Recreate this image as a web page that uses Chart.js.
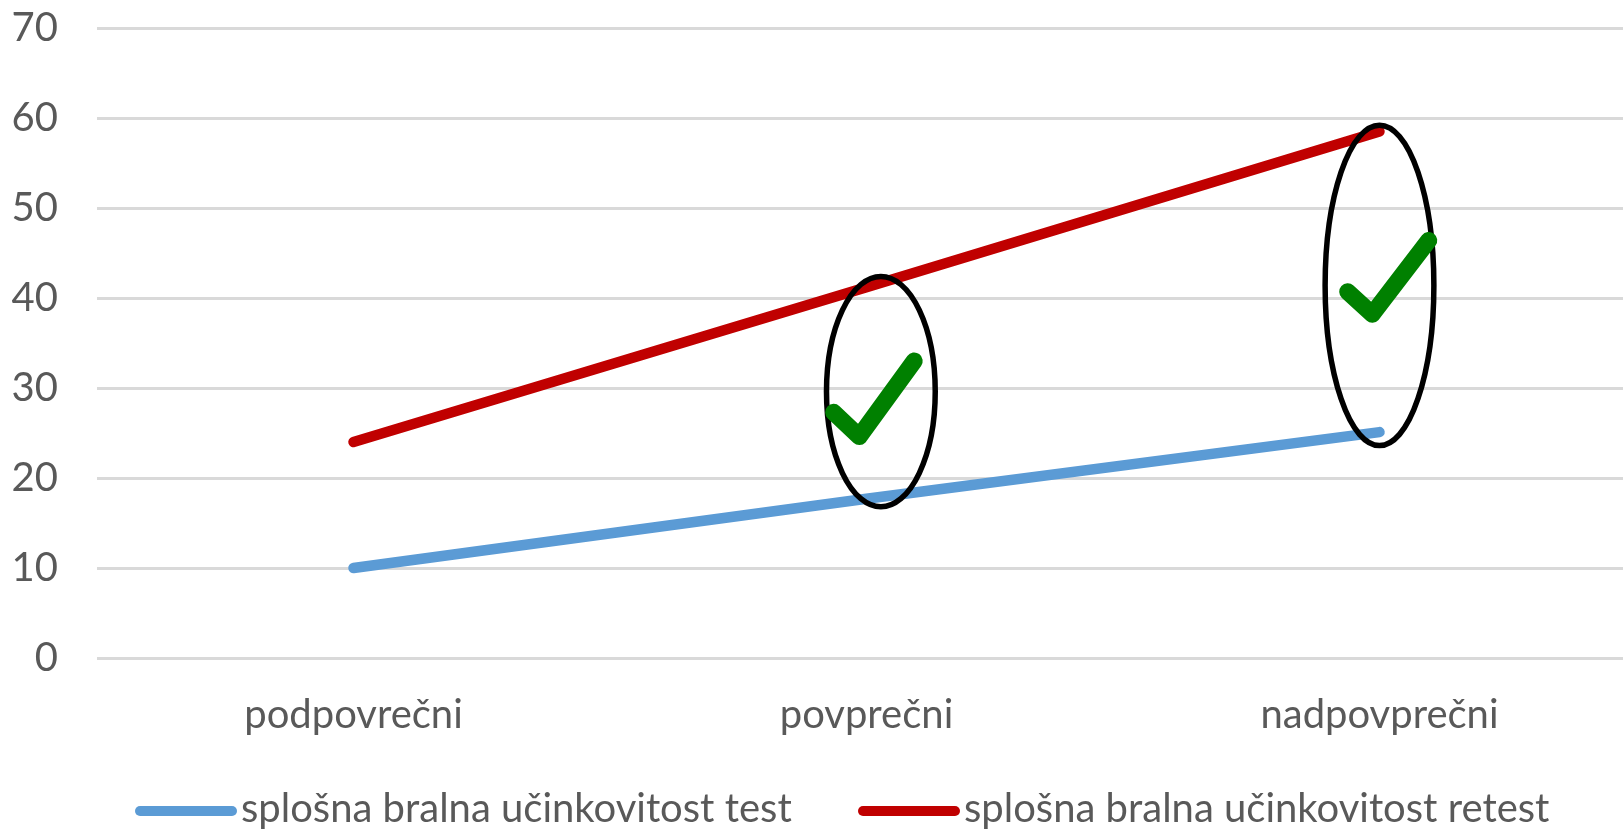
<!DOCTYPE html>
<html>
<head>
<meta charset="utf-8">
<script src="https://cdn.jsdelivr.net/npm/chart.js@4.4.1/dist/chart.umd.min.js"></script>
<style>
  html, body { margin: 0; padding: 0; background: #fff; overflow: hidden; }
  #wrap { position: relative; width: 1636px; height: 829px; }
</style>
</head>
<body>
<div id="wrap"><canvas id="chart"></canvas></div>
<script>
const categories = ["podpovrečni", "povprečni", "nadpovprečni"];
const seriesNames = ["splošna bralna učinkovitost test", "splošna bralna učinkovitost retest"];
const testValues = [10, 17.7, 25.1];
const retestValues = [24, 41.2, 58.5];
const yTicks = [0, 10, 20, 30, 40, 50, 60, 70];

// ellipses and check marks drawn on top (category index + offset, value units)
const ellipses = [
  { cat: 1, dx: 0.028, value: 29.6, rx: 0.106, ry: 12.8 },
  { cat: 2, dx: 0.0, value: 41.4, rx: 0.106, ry: 17.8 }
];
const checks = [
  [{ cat: 1, dx: -0.064, value: 27.3 }, { cat: 1, dx: -0.014, value: 24.6 }, { cat: 1, dx: 0.093, value: 33.0 }],
  [{ cat: 2, dx: -0.062, value: 40.7 }, { cat: 2, dx: -0.014, value: 38.2 }, { cat: 2, dx: 0.096, value: 46.4 }]
];

const blue = "#5B9BD5";
const red = "#C00000";
const textColor = "#595959";
const fontFamily = "Lato, 'Noto Sans', sans-serif";

const annotations = {
  id: "annotations",
  afterDatasetsDraw(chart) {
    const ctx = chart.ctx;
    const x = chart.scales.x, y = chart.scales.y;
    const catW = x.getPixelForValue(1) - x.getPixelForValue(0);
    ctx.save();
    ctx.strokeStyle = "#000";
    ctx.lineWidth = 5.5;
    ellipses.forEach(e => {
      ctx.beginPath();
      const cx = x.getPixelForValue(e.cat) + e.dx * catW;
      const cy = y.getPixelForValue(e.value);
      const ry = Math.abs(y.getPixelForValue(e.value + e.ry) - cy);
      ctx.ellipse(cx, cy, e.rx * catW, ry, 0, 0, Math.PI * 2);
      ctx.stroke();
    });
    ctx.strokeStyle = "#008000";
    ctx.lineWidth = 17;
    ctx.lineCap = "round";
    ctx.lineJoin = "round";
    checks.forEach(pts => {
      ctx.beginPath();
      pts.forEach((p, i) => {
        const px = x.getPixelForValue(p.cat) + p.dx * catW;
        const py = y.getPixelForValue(p.value);
        if (i === 0) ctx.moveTo(px, py); else ctx.lineTo(px, py);
      });
      ctx.stroke();
    });
    ctx.restore();
  }
};

const legendLines = {
  id: "legendLines",
  afterDraw(chart) {
    const ctx = chart.ctx;
    const starts = [135, 858];
    const yMid = 809;
    ctx.save();
    ctx.font = "40px " + fontFamily;
    ctx.textBaseline = "middle";
    ctx.fillStyle = textColor;
    chart.data.datasets.forEach((ds, i) => {
      ctx.strokeStyle = ds.borderColor;
      ctx.lineWidth = 10;
      ctx.lineCap = "round";
      ctx.beginPath();
      ctx.moveTo(starts[i] + 5, yMid + 2);
      ctx.lineTo(starts[i] + 97, yMid + 2);
      ctx.stroke();
      ctx.fillText(ds.label, starts[i] + 106, yMid);
    });
    ctx.restore();
  }
};

new Chart(document.getElementById("chart"), {
  type: "line",
  data: {
    labels: categories,
    datasets: [
      { label: seriesNames[0], data: testValues, borderColor: blue, backgroundColor: blue },
      { label: seriesNames[1], data: retestValues, borderColor: red, backgroundColor: red }
    ]
  },
  options: {
    responsive: true,
    maintainAspectRatio: false,
    animation: false,
    layout: { padding: { top: 28, left: 0, right: 0, bottom: 0 } },
    elements: {
      line: { borderWidth: 10.5, borderCapStyle: "round", borderJoinStyle: "round", tension: 0 },
      point: { radius: 0, hoverRadius: 0 }
    },
    plugins: {
      legend: { display: false },
      tooltip: { enabled: false }
    },
    scales: {
      x: {
        offset: true,
        grid: { display: false, drawTicks: false },
        border: { display: false },
        ticks: { color: textColor, padding: 33, font: { family: fontFamily, size: 40 } },
        afterFit(scale) { scale.height = 171; }
      },
      y: {
        min: 0,
        max: 70,
        afterBuildTicks(scale) { scale.ticks = yTicks.map(v => ({ value: v })); },
        grid: { color: "#D9D9D9", lineWidth: 3, drawTicks: true, tickLength: 39, tickColor: "rgba(0,0,0,0)" },
        border: { display: false },
        ticks: { color: textColor, padding: 0, font: { family: fontFamily, size: 40 } },
        afterFit(scale) { scale.width = 97; }
      }
    }
  },
  plugins: [annotations, legendLines]
});
</script>
</body>
</html>
